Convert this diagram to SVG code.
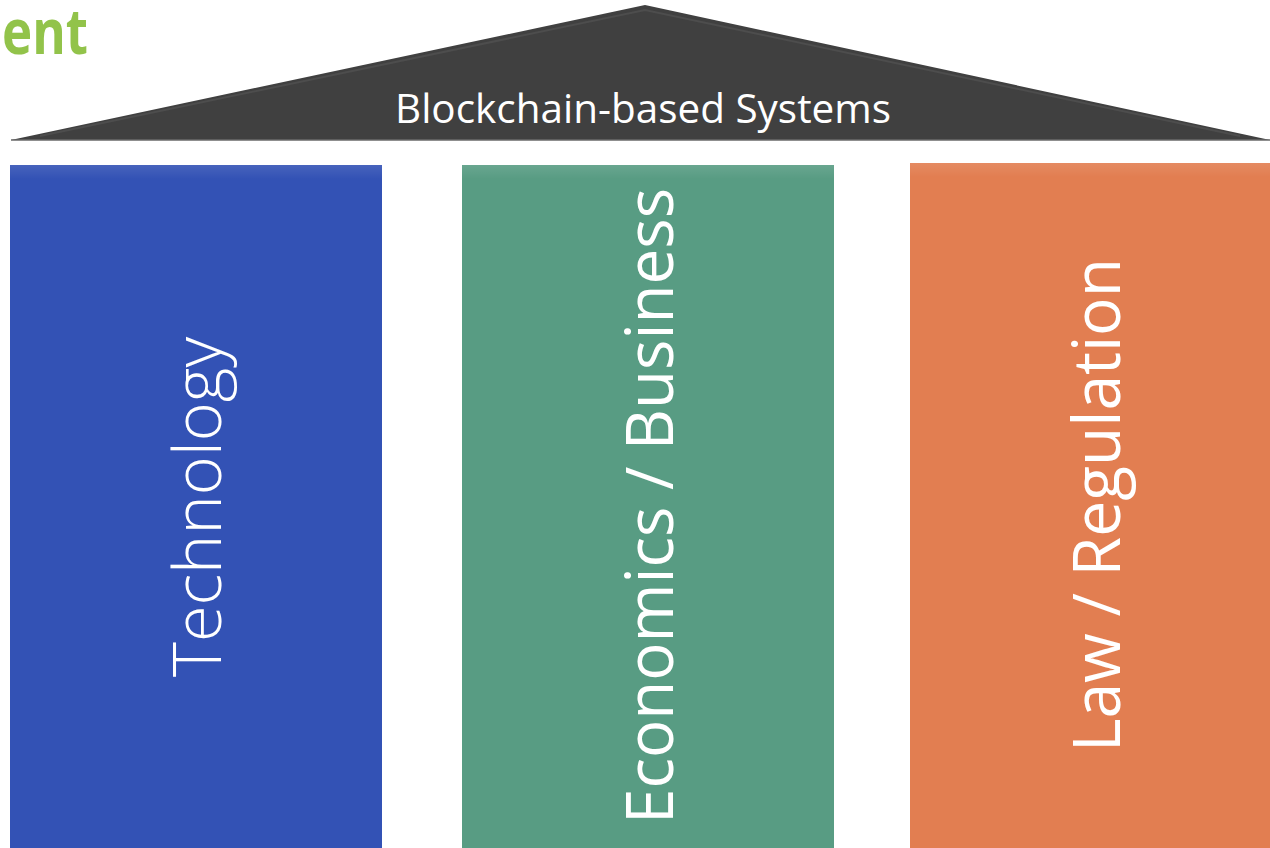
<svg xmlns="http://www.w3.org/2000/svg" width="1270" height="848" viewBox="0 0 1270 848">
  <defs>
    <style>
      .lbl { fill: #ffffff; font-family: "Open Sans", "Liberation Sans", sans-serif; }
      .vert { font-size: 66px; text-anchor: middle; }
      .hl { fill: url(#topGlow); }
    </style>
    <linearGradient id="topGlow" x1="0" y1="0" x2="0" y2="1">
      <stop offset="0" stop-color="#ffffff" stop-opacity="0.10"/>
      <stop offset="1" stop-color="#ffffff" stop-opacity="0"/>
    </linearGradient>
  </defs>
  <rect width="1270" height="848" fill="#ffffff"/>

  <text x="2" y="54" font-family="'Open Sans', 'Liberation Sans', sans-serif" font-weight="700" font-size="62" fill="#92C34A" textLength="86" lengthAdjust="spacingAndGlyphs">ent</text>

  <g id="roof">
    <polygon points="11,140 645,5 1270,140" fill="#404040"/>
    <polyline points="40,136 645,10 1240,136" fill="none" stroke="#5a5a5a" stroke-width="2" stroke-opacity="0.5"/>
    <line x1="11" y1="140" x2="1270" y2="140" stroke="#6a6a6a" stroke-width="1.5"/>
    <text class="lbl" x="395" y="123" font-size="40" textLength="496" lengthAdjust="spacingAndGlyphs">Blockchain-based Systems</text>
  </g>

  <g id="technology">
    <rect x="10" y="165" width="372" height="700" fill="#3352B5"/>
    <rect x="10" y="165" width="372" height="14" class="hl"/>
    <text class="lbl vert" transform="translate(221,507) rotate(-90)" font-weight="300" textLength="340" lengthAdjust="spacingAndGlyphs">Technology</text>
  </g>

  <g id="economics">
    <rect x="462" y="165" width="372" height="700" fill="#589C83"/>
    <rect x="462" y="165" width="372" height="14" class="hl"/>
    <text class="lbl vert" transform="translate(673,506) rotate(-90)" textLength="636" lengthAdjust="spacingAndGlyphs">Economics / Business</text>
  </g>

  <g id="law">
    <rect x="910" y="163" width="372" height="700" fill="#E27E51"/>
    <rect x="910" y="163" width="372" height="14" class="hl"/>
    <text class="lbl vert" transform="translate(1120,505) rotate(-90)" textLength="494" lengthAdjust="spacingAndGlyphs">Law / Regulation</text>
  </g>

  <g id="connectors"></g>
</svg>
